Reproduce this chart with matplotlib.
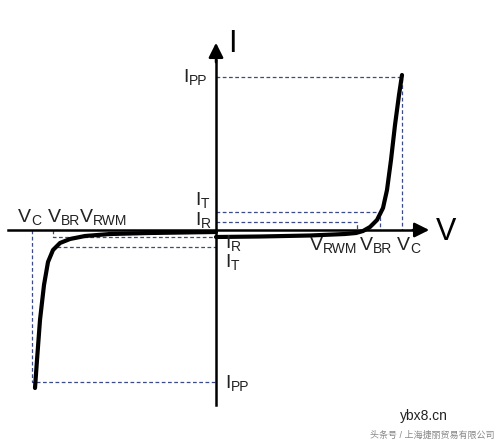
import matplotlib.pyplot as plt

plt.rcParams['font.family'] = ['Liberation Sans', 'Noto Sans CJK SC', 'DejaVu Sans']

# curve points in picture coordinates (x right, y down)
right_x = [216, 260, 310, 345, 356, 363, 370, 377, 383, 387, 391, 395, 399, 402]
right_y = [237, 236.5, 235.5, 234, 233, 231, 227, 220, 208, 190, 160, 125, 95, 75]
left_x = [35, 37, 40, 44, 48, 53, 60, 70, 85, 110, 150, 216]
left_y = [388, 360, 320, 285, 262, 250, 243, 239, 236, 234, 233, 232]

x0, y0 = 216, 230
ipp_top, it_y, ir_y = 77, 212, 222
vc_r, vbr_r, vrwm_r = 402, 380, 357
vc_l, vbr_l, ipp_bot = 32, 53, 382
ir_l, it_l = 237, 247

fig = plt.figure(figsize=(4.97, 4.47), dpi=100)
ax = fig.add_axes([0, 0, 1, 1])
ax.set_xlim(0, 497)
ax.set_ylim(447, 0)
ax.axis('off')

dash = dict(color='#3a4a8a', lw=0.9, ls=(0, (3, 2)))
ax.plot([x0, vc_r, vc_r], [ipp_top, ipp_top, y0], **dash)
ax.plot([x0, vbr_r, vbr_r], [it_y, it_y, y0], **dash)
ax.plot([x0, vrwm_r, vrwm_r], [ir_y, ir_y, y0], **dash)
ax.plot([vc_l, vc_l, x0], [y0, ipp_bot, ipp_bot], **dash)
ax.plot([vbr_l, vbr_l, x0], [y0, ir_l, ir_l], **dash)
ax.plot([57, x0], [it_l, it_l], **dash)

# axes
ax.plot([8, 420], [y0, y0], color='black', lw=1.8)
ax.annotate('', xy=(432, y0), xytext=(410, y0),
            arrowprops=dict(arrowstyle='-|>', color='black', lw=1.8, mutation_scale=22))
ax.plot([x0, x0], [405, 60], color='black', lw=1.8)
ax.annotate('', xy=(x0, 40), xytext=(x0, 65),
            arrowprops=dict(arrowstyle='-|>', color='black', lw=1.8, mutation_scale=22))

ax.plot(right_x, right_y, color='black', lw=3, solid_capstyle='round')
ax.plot(left_x, left_y, color='black', lw=3, solid_capstyle='round')


def lab(x, y, main, sub):
    t = ax.text(x, y, main, fontsize=14, va='baseline', color='#222222')
    ax.annotate(sub, xy=(1, 0), xycoords=t, xytext=(0, 1), textcoords='offset points',
                fontsize=10, va='baseline', color='#222222')


ax.text(228, 52, 'I', fontsize=22, va='baseline')
ax.text(436, 240, 'V', fontsize=22, va='baseline')
lab(183, 82, 'I', 'PP')
lab(195, 205, 'I', 'T')
lab(195, 225, 'I', 'R')
lab(225, 248, 'I', 'R')
lab(225, 267, 'I', 'T')
lab(225, 388, 'I', 'PP')
lab(18, 222, 'V', 'C')
lab(48, 222, 'V', 'BR')
lab(80, 222, 'V', 'RWM')
lab(310, 250, 'V', 'RWM')
lab(360, 250, 'V', 'BR')
lab(397, 250, 'V', 'C')

ax.text(400, 420, 'ybx8.cn', fontsize=10, color='#222222')
ax.text(370, 438, '头条号 / 上海捷丽贸易有限公司', fontsize=6.5, color='#888888')

fig.savefig('out.png')
